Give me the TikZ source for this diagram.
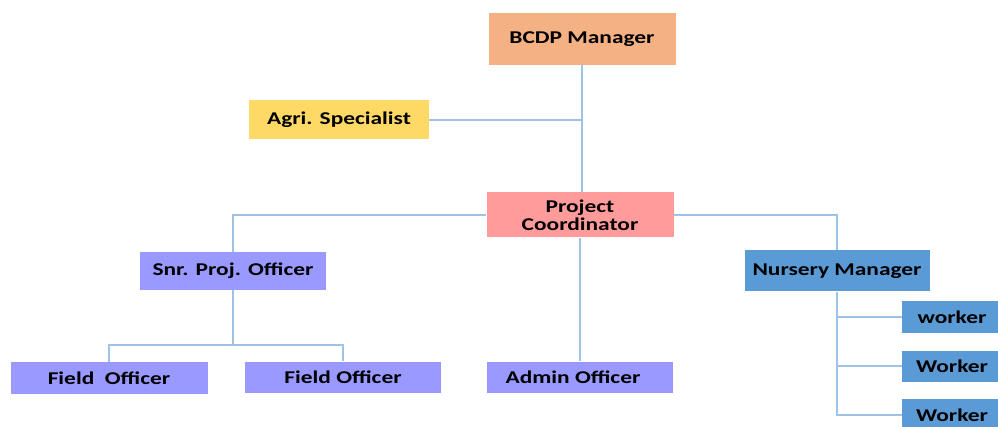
\documentclass[tikz,border=0pt]{standalone}
\usepackage{fontspec}
\setmainfont{Carlito}[FakeStretch=1.3]

\definecolor{mgrorange}{HTML}{F4B183}
\definecolor{agriyellow}{HTML}{FFD966}
\definecolor{coordpink}{HTML}{FF9B9B}
\definecolor{officerblue}{HTML}{9999FF}
\definecolor{nurseryblue}{HTML}{5B9BD5}
\definecolor{linkblue}{HTML}{9DC3E6}

\tikzset{
	post/.style={draw=none, inner sep=2pt, align=center,
		font=\fontsize{18}{18}\selectfont\bfseries},
	link/.style={draw=linkblue, line width=2pt}
}

\begin{document}
\begin{tikzpicture}[x=1pt,y=-1pt]
		% Fix the page size.
		\useasboundingbox (0,0) rectangle (998,427);

		% Top of the chart
		\node[post, fill=mgrorange, minimum width=187, minimum height=52] (mgr) at (582,39) {BCDP Manager};
		\node[post, fill=agriyellow, minimum width=180, minimum height=39] (agri) at (339,120) {Agri. Specialist};
		\node[post, fill=coordpink, minimum width=187, minimum height=45] (coord) at (580,215) {Project\\Coordinator};

		% Second row
		\node[post, fill=officerblue, minimum width=186, minimum height=38] (snr) at (233,271) {Snr. Proj. Officer};
		\node[post, fill=nurseryblue, minimum width=185, minimum height=41] (nursery) at (837,271) {Nursery Manager};

		% Bottom row
		\node[post, fill=officerblue, minimum width=197, minimum height=32] (field1) at (109,378) {Field\ \ Officer};
		\node[post, fill=officerblue, minimum width=196, minimum height=31] (field2) at (343,377) {Field Officer};
		\node[post, fill=officerblue, minimum width=186, minimum height=31] (admin) at (580,377) {Admin Officer\hspace{14pt}};

		% Workers under the nursery
		\node[post, fill=nurseryblue, minimum width=100, minimum height=32] (worker1) at (952,317) {worker};
		\node[post, fill=nurseryblue, minimum width=100, minimum height=31] (worker2) at (952,366) {Worker};
		\node[post, fill=nurseryblue, minimum width=100, minimum height=32] (worker3) at (952,415) {Worker};

		% Lines between the posts
		\coordinate (fbus) at (233,345);
		\draw[link] (mgr.south) -- (mgr.south |- coord.north);
		\draw[link] (agri.east) -- (agri.east -| mgr.south);
		\draw[link] (coord.west) -| (snr.north);
		\draw[link] (coord.east) -| (nursery.north);
		\draw[link] (coord.south) -- (admin.north);
		\draw[link] (snr.south) -- (fbus);
		\draw[link] (field1.north) |- (fbus) -| (field2.north);
		\draw[link] (nursery.south) |- (worker3.west);
		\draw[link] (nursery.south |- worker1.west) -- (worker1.west);
		\draw[link] (nursery.south |- worker2.west) -- (worker2.west);
	\end{tikzpicture}
\end{document}
